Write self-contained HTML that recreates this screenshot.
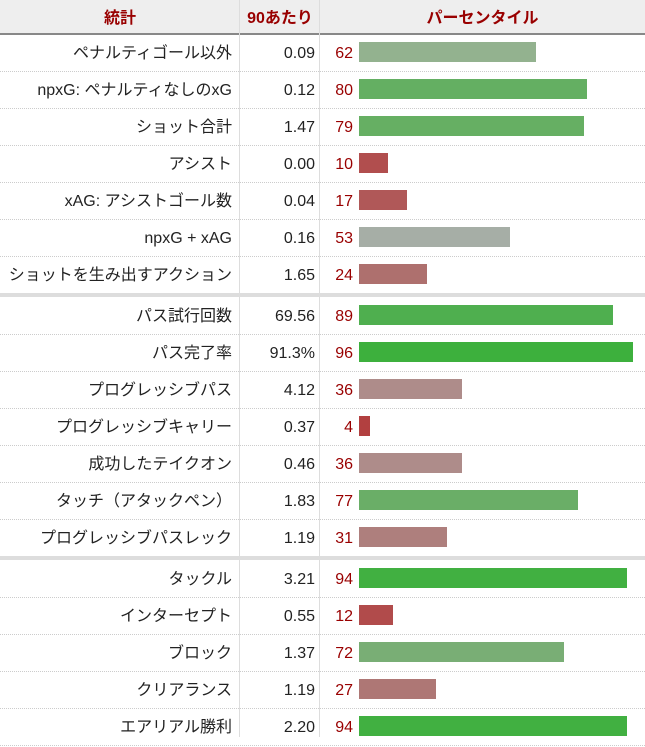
<!DOCTYPE html>
<html><head><meta charset="utf-8"><style>
body{margin:0;width:645px;height:737px;overflow:hidden;background:#fff;font-family:"Liberation Sans","Noto Sans CJK JP",sans-serif;font-size:16px;color:#222}
.h{position:absolute;top:0;left:0;width:645px;height:33px;background:#eee;border-bottom:2px solid #888;font-weight:bold;color:#990000}
.h div{position:absolute;top:0;line-height:37px;text-align:center}
.r{position:absolute;left:0;width:645px;height:36px;border-bottom:1px dotted #ccc}
.r div{position:absolute;top:0;line-height:38px}
.a{left:0;width:232px;text-align:right}
.b{left:240px;width:75px;text-align:right}
.c{left:320px;width:33px;text-align:right;color:#990000}
.bar{position:absolute;left:359px;top:7px;height:20px}
.vl{position:absolute;top:0;height:737px;width:1px;background:#ddd}
.sep{position:absolute;left:0;width:645px;height:4px;background:#ddd}
</style></head><body>
<div class="h"><div style="left:0;width:240px">統計</div><div style="left:240px;width:80px">90あたり</div><div style="left:320px;width:325px">パーセンタイル</div></div>
<div class="vl" style="left:239px"></div><div class="vl" style="left:319px"></div>
<div id="rows"></div>
<script>
const d=[["ペナルティゴール以外","0.09",62,"#93b28f"],["npxG: ペナルティなしのxG","0.12",80,"#64af62"],["ショット合計","1.47",79,"#66af63"],["アシスト","0.00",10,"#b14e4e"],["xAG: アシストゴール数","0.04",17,"#b05858"],["npxG + xAG","0.16",53,"#a6aea6"],["ショットを生み出すアクション","1.65",24,"#ae706e"],
null,["パス試行回数","69.56",89,"#4faf4f"],["パス完了率","91.3%",96,"#3db03d"],["プログレッシブパス","4.12",36,"#ae8c8a"],["プログレッシブキャリー","0.37",4,"#b24040"],["成功したテイクオン","0.46",36,"#ae8c8a"],["タッチ（アタックペン）","1.83",77,"#6aae67"],["プログレッシブパスレック","1.19",31,"#ae7f7d"],
null,["タックル","3.21",94,"#41b041"],["インターセプト","0.55",12,"#b14b4b"],["ブロック","1.37",72,"#79ae75"],["クリアランス","1.19",27,"#ae7775"],["エアリアル勝利","2.20",94,"#41b041"]];
let y=35,h="";
for(const r of d){if(!r){h+=`<div class="sep" style="top:${y-1}px"></div>`;y+=4;continue}
h+=`<div class="r" style="top:${y}px"><div class="a">${r[0]}</div><div class="b">${r[1]}</div><div class="c">${r[2]}</div><span class="bar" style="width:${Math.round(r[2]*2.85)}px;background:${r[3]}"></span></div>`;y+=37;}
document.getElementById("rows").innerHTML=h;
</script>
</body></html>
